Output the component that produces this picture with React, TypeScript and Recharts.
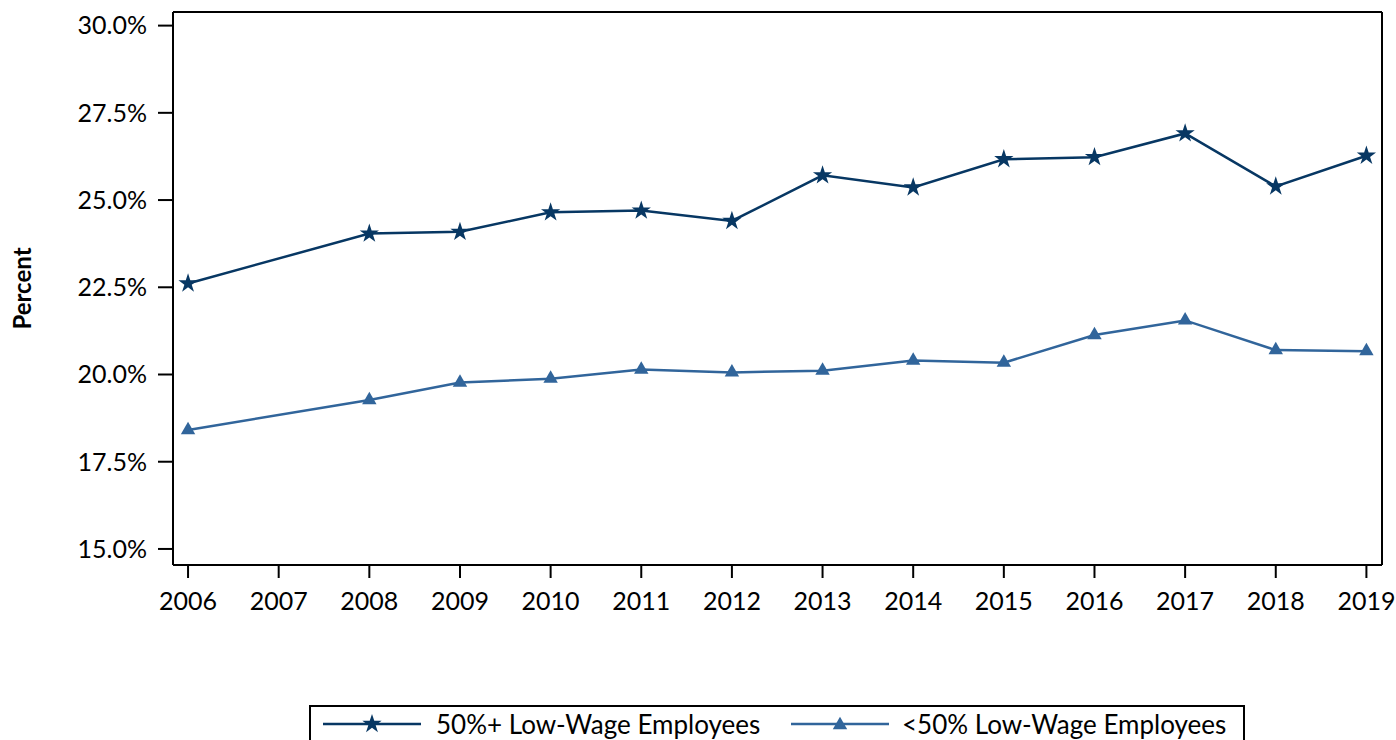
import { LineChart, Line, XAxis, YAxis, ReferenceLine, Symbols } from 'recharts'

const YEARS = [2006, 2008, 2009, 2010, 2011, 2012, 2013, 2014, 2015, 2016, 2017, 2018, 2019]
const HIGH_LOW_WAGE = [22.61, 24.04, 24.09, 24.65, 24.7, 24.4, 25.71, 25.36, 26.17, 26.23, 26.91, 25.39, 26.27]
const LOW_LOW_WAGE = [18.41, 19.27, 19.77, 19.88, 20.14, 20.06, 20.11, 20.4, 20.34, 21.13, 21.55, 20.7, 20.67]
const X_TICKS = [2006, 2007, 2008, 2009, 2010, 2011, 2012, 2013, 2014, 2015, 2016, 2017, 2018, 2019]
const Y_TICKS = [15, 17.5, 20, 22.5, 25, 27.5, 30]

const X_DOMAIN: [number, number] = [2005.834, 2019.172]
const Y_DOMAIN: [number, number] = [14.54, 30.39]

const DARK = '#073763'
const LIGHT = '#31659b'
const FONT = 'Lato, "Open Sans", sans-serif'

const data = YEARS.map((year, i) => ({
  year,
  high: HIGH_LOW_WAGE[i],
  low: LOW_LOW_WAGE[i],
}))

const starDot = (props: any) => (
  <Symbols key={`s-${props.index}`} cx={props.cx} cy={props.cy} type="star" size={115} fill={DARK} />
)
const triDot = (props: any) => (
  <Symbols key={`t-${props.index}`} cx={props.cx} cy={props.cy} type="triangle" size={90} fill={LIGHT} />
)

function LegendItem({ left, color, type, label }: { left: number; color: string; type: 'star' | 'triangle'; label: string }) {
  return (
    <div style={{ position: 'absolute', left, top: 0, height: 34, display: 'flex', alignItems: 'center' }}>
      <svg width={100} height={24} style={{ marginRight: type === 'star' ? 14 : 12 }}>
        <line x1={1} y1={12} x2={99} y2={12} stroke={color} strokeWidth={2.5} />
        <Symbols cx={50} cy={type === 'star' ? 12 : 13} type={type} size={type === 'star' ? 115 : 90} fill={color} />
      </svg>
      <span style={{ whiteSpace: 'nowrap' }}>{label}</span>
    </div>
  )
}

export default function App() {
  return (
    <div style={{ position: 'absolute', left: 0, top: 0, width: 1396, height: 740, background: '#fff', overflow: 'hidden', fontFamily: FONT }}>
      <LineChart width={1396} height={740} data={data} margin={{ top: 12, right: 14, left: 0, bottom: 0 }}>
        <XAxis
          dataKey="year"
          type="number"
          domain={X_DOMAIN}
          ticks={X_TICKS}
          allowDataOverflow
          height={175}
          tickSize={13}
          tickMargin={14}
          axisLine={{ stroke: '#000', strokeWidth: 2 }}
          tickLine={{ stroke: '#000', strokeWidth: 2 }}
          tick={{ fill: '#000', fontSize: 25, fontFamily: FONT }}
        />
        <YAxis
          domain={Y_DOMAIN}
          ticks={Y_TICKS}
          allowDataOverflow
          width={173}
          tickSize={15}
          tickMargin={11}
          axisLine={{ stroke: '#000', strokeWidth: 2 }}
          tickLine={{ stroke: '#000', strokeWidth: 2 }}
          tick={{ fill: '#000', fontSize: 25, fontFamily: FONT }}
          tickFormatter={(v: number) => `${v.toFixed(1)}%`}
          label={{
            value: 'Percent',
            angle: -90,
            position: 'insideLeft',
            offset: 22,
            style: { textAnchor: 'middle', fontWeight: 700, fontSize: 24, fill: '#000', fontFamily: FONT },
          }}
        />
        <ReferenceLine y={Y_DOMAIN[1]} stroke="#000" strokeWidth={2} />
        <ReferenceLine x={X_DOMAIN[1]} stroke="#000" strokeWidth={2} />
        <Line
          dataKey="high"
          stroke={DARK}
          strokeWidth={2.5}
          dot={starDot}
          activeDot={false}
          isAnimationActive={false}
        />
        <Line
          dataKey="low"
          stroke={LIGHT}
          strokeWidth={2.5}
          dot={triDot}
          activeDot={false}
          isAnimationActive={false}
        />
      </LineChart>
      <div
        style={{
          position: 'absolute',
          left: 309,
          top: 705,
          width: 936,
          height: 44,
          border: '2px solid #000',
          boxSizing: 'border-box',
          fontSize: 26,
          color: '#000',
        }}
      >
        <LegendItem left={11} color={DARK} type="star" label="50%+ Low-Wage Employees" />
        <LegendItem left={479} color={LIGHT} type="triangle" label="<50% Low-Wage Employees" />
      </div>
    </div>
  )
}
